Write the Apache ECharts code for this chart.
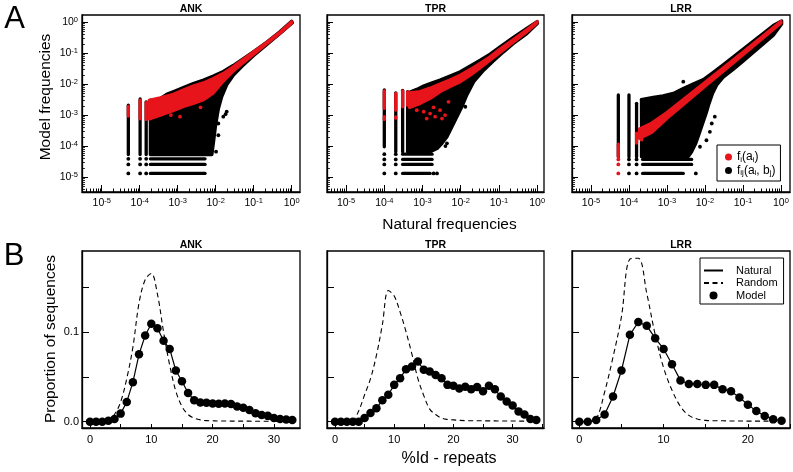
<!DOCTYPE html>
<html><head><meta charset="utf-8">
<script src="https://cdn.jsdelivr.net/npm/echarts@6/dist/echarts.min.js"></script>
<style>html,body{margin:0;padding:0;background:#fff}#c{width:793px;height:472px}</style>
</head><body><div id="c"></div>
<script>
// ---------------- DATA ----------------
// Panel A: values stored as [log10(natural freq), log10(model freq)]
const ankBlackCloud = [[-3.72,-2.52],[-3.6,-2.54],[-3.46,-2.47],[-3.29,-2.33],[-3.07,-2.22],[-2.85,-2.11],[-2.59,-1.98],[-2.32,-1.87],[-2.06,-1.74],[-1.8,-1.59],[-1.54,-1.40],[-1.27,-1.18],[-1.01,-0.96],[-0.66,-0.65],[-0.31,-0.31],[0.0,0.03],[0.02,-0.02],[-0.3,-0.36],[-0.66,-0.73],[-1.0,-1.08],[-1.3,-1.42],[-1.54,-1.72],[-1.71,-2.02],[-1.84,-2.4],[-1.93,-2.8],[-2.0,-3.3],[-2.05,-3.8],[-2.1,-4.27],[-3.72,-4.27]];
const ankRedCloud = [[-3.75,-2.52],[-3.46,-2.44],[-3.11,-2.33],[-2.85,-2.19],[-2.59,-2.06],[-2.32,-1.96],[-2.06,-1.82],[-1.8,-1.66],[-1.54,-1.44],[-1.27,-1.2],[-1.01,-0.97],[-0.66,-0.66],[-0.31,-0.33],[0.0,0.015],[0.0,-0.025],[-0.31,-0.36],[-0.66,-0.7],[-1.01,-1.04],[-1.27,-1.3],[-1.54,-1.58],[-1.8,-1.9],[-2.06,-2.28],[-2.32,-2.5],[-2.59,-2.62],[-2.85,-2.72],[-3.11,-2.85],[-3.46,-3.0],[-3.75,-3.12]];
// segments: [x1, y1, x2, y2] (log10)
const ankBlackSegs = [[-4.30,-4.27,-4.30,-2.68],[-3.99,-4.27,-3.99,-2.48],[-3.83,-4.27,-3.83,-2.57],[-3.72,-4.41,-2.28,-4.41],[-3.72,-4.59,-2.28,-4.59],[-3.72,-4.88,-2.28,-4.88]];
const ankRedSegs = [[-4.30,-3.03,-4.30,-2.72],[-3.99,-3.12,-3.99,-2.52],[-3.83,-3.14,-3.83,-2.60]];
const ankBlackDots = [[-4.30,-4.41],[-4.30,-4.59],[-4.30,-4.88],[-3.99,-4.41],[-3.99,-4.59],[-3.99,-4.88],[-3.83,-4.41],[-3.83,-4.59],[-3.83,-4.88],[-1.80,-3.05],[-1.74,-2.97],[-1.71,-2.89],[-1.93,-3.27],[-1.93,-3.65],[-1.99,-4.18]];
const ankRedDots = [[-2.94,-3.05],[-3.18,-3.0],[-2.4,-2.75]];

const tprBlackCloud = [[-3.34,-2.26],[-3.15,-2.17],[-2.97,-2.06],[-2.8,-1.98],[-2.54,-1.87],[-2.28,-1.74],[-2.01,-1.6],[-1.75,-1.41],[-1.49,-1.23],[-1.23,-1.03],[-0.97,-0.8],[-0.62,-0.49],[-0.27,-0.2],[0.0,0.02],[0.01,-0.04],[-0.27,-0.37],[-0.62,-0.69],[-0.88,-0.96],[-1.14,-1.25],[-1.4,-1.55],[-1.66,-1.92],[-1.84,-2.35],[-1.97,-2.73],[-2.1,-3.05],[-2.23,-3.38],[-2.36,-3.7],[-2.49,-3.91],[-2.62,-4.08],[-2.8,-4.18],[-3.34,-4.18]];
const tprRedCloud = [[-3.34,-2.28],[-3.06,-2.24],[-2.8,-2.13],[-2.54,-2.0],[-2.28,-1.87],[-2.01,-1.71],[-1.75,-1.53],[-1.49,-1.33],[-1.23,-1.12],[-0.97,-0.87],[-0.62,-0.56],[-0.27,-0.25],[0.0,0.01],[0.0,-0.02],[-0.27,-0.31],[-0.62,-0.64],[-0.97,-0.98],[-1.23,-1.22],[-1.49,-1.47],[-1.75,-1.71],[-2.01,-1.92],[-2.28,-2.08],[-2.54,-2.24],[-2.8,-2.46],[-3.06,-2.62],[-3.34,-2.75]];
const tprBlackSegs = [[-4.0,-4.02,-4.0,-2.19],[-3.70,-4.18,-3.70,-2.28],[-3.52,-4.18,-3.52,-2.2],[-3.39,-4.18,-3.39,-2.24],[-3.52,-4.26,-2.75,-4.26],[-3.52,-4.43,-2.75,-4.43],[-3.52,-4.59,-2.75,-4.59],[-3.52,-4.88,-2.8,-4.88]];
const tprRedSegs = [[-4.0,-2.78,-4.0,-2.22],[-4.0,-3.14,-4.0,-3.05],[-3.70,-2.84,-3.70,-2.30],[-3.70,-3.1,-3.70,-3.06],[-3.52,-2.73,-3.52,-2.22],[-3.39,-2.68,-3.39,-2.25]];
const tprBlackDots = [[-4.0,-4.26],[-4.0,-4.43],[-4.0,-4.59],[-4.0,-4.88],[-3.70,-4.26],[-3.70,-4.43],[-3.70,-4.59],[-3.70,-4.88],[-2.71,-4.88],[-2.62,-4.88],[-2.36,-3.91],[-2.4,-4.0],[-1.88,-2.73]];
const tprRedDots = [[-3.15,-2.84],[-2.97,-2.89],[-2.8,-2.95],[-2.71,-2.75],[-2.89,-3.11],[-2.67,-3.05],[-2.54,-2.84],[-2.49,-3.11],[-2.41,-3.0],[-2.32,-2.57]];

const lrrBlackCloud = [[-3.64,-2.49],[-3.36,-2.43],[-3.1,-2.38],[-2.83,-2.3],[-2.57,-2.14],[-2.31,-2.0],[-2.04,-1.85],[-1.78,-1.62],[-1.52,-1.38],[-1.25,-1.12],[-0.99,-0.87],[-0.73,-0.62],[-0.46,-0.36],[-0.2,-0.11],[0.02,0.04],[0.02,-0.06],[-0.2,-0.42],[-0.46,-0.70],[-0.73,-0.98],[-0.99,-1.25],[-1.25,-1.52],[-1.52,-1.78],[-1.69,-2.03],[-1.8,-2.3],[-1.89,-2.62],[-1.97,-2.95],[-2.06,-3.27],[-2.15,-3.59],[-2.24,-3.91],[-2.35,-4.18],[-2.44,-4.34],[-3.64,-4.34]];
const lrrRedCloud = [[-3.72,-3.45],[-3.4,-3.26],[-3.0,-2.92],[-2.0,-1.95],[-1.0,-0.97],[0.0,0.02],[0.0,-0.03],[-1.0,-1.05],[-2.0,-2.07],[-3.0,-3.1],[-3.4,-3.55],[-3.72,-3.75]];
const lrrBlackSegs = [[-4.28,-4.34,-4.28,-2.35],[-4.0,-4.34,-4.0,-2.35],[-3.80,-4.34,-3.80,-2.62],[-3.67,-4.34,-3.67,-2.49],[-3.64,-4.43,-2.35,-4.43],[-3.64,-4.59,-2.35,-4.59],[-3.64,-4.88,-2.57,-4.88]];
const lrrRedSegs = [[-4.28,-4.34,-4.28,-3.94],[-3.80,-3.9,-3.80,-3.58],[-3.67,-3.8,-3.67,-3.5]];
const lrrBlackDots = [[-4.0,-4.43],[-4.0,-4.59],[-4.0,-4.88],[-3.80,-4.43],[-3.80,-4.59],[-3.80,-4.88],[-2.57,-1.92],[-2.13,-4.02],[-1.96,-3.81],[-1.87,-3.54],[-1.82,-3.27],[-1.74,-3.05],[-2.24,-4.88]];
const lrrRedDots = [[-4.28,-4.43],[-4.28,-4.59],[-4.28,-4.88]];

// Panel B: proportion of sequences vs %Id (x = 0,1,2,...)
const ankNatural = [0,0,0,0.001,0.003,0.009,0.022,0.044,0.075,0.096,0.109,0.104,0.09,0.081,0.057,0.045,0.032,0.024,0.0215,0.021,0.0204,0.02,0.0204,0.0196,0.017,0.0156,0.013,0.0095,0.0075,0.0065,0.004,0.003,0.0025,0.002];
const ankModel   = [0,0,0,0.001,0.003,0.009,0.022,0.044,0.075,0.096,0.109,0.104,0.09,0.081,0.057,0.045,0.032,0.024,0.0215,0.021,0.0204,0.02,0.0204,0.0196,0.017,0.0156,0.013,0.0095,0.0075,0.0065,0.004,0.003,0.0025,0.002];
const ankRandom  = [0,0,0,0.001,0.008,0.022,0.048,0.083,0.132,0.158,0.165,0.142,0.1,0.063,0.034,0.017,0.008,0.004,0.002,0.0012,0.001,0.0008,0.0008,0.0007,0.0007,0.0006,0.0006,0.0005,0.0005,0.0005,0.0004,0.0004,0.0004,0.0003];
const tprNatural = [0,0,0,0,0,0.004,0.0096,0.015,0.024,0.03,0.041,0.0485,0.0585,0.0615,0.067,0.0578,0.056,0.052,0.0485,0.041,0.04,0.037,0.039,0.036,0.0385,0.034,0.04,0.036,0.028,0.0226,0.018,0.0115,0.008,0.003,0.002];
const tprModel   = [0,0,0,0,0,0.004,0.0096,0.015,0.024,0.03,0.041,0.0485,0.0585,0.0615,0.067,0.0578,0.056,0.052,0.0485,0.041,0.04,0.037,0.039,0.036,0.0385,0.034,0.04,0.036,0.028,0.0226,0.018,0.0115,0.008,0.003,0.002];
const tprRandom  = [0,0,0,0.001,0.012,0.03,0.048,0.074,0.108,0.146,0.14,0.122,0.1,0.075,0.048,0.029,0.014,0.008,0.004,0.0025,0.002,0.0015,0.0012,0.001,0.001,0.001,0.0009,0.0009,0.0008,0.0008,0.0008,0.0007,0.0007,0.0007,0.0007];
const lrrNatural = [0,0,0.002,0.008,0.028,0.057,0.0967,0.111,0.1067,0.093,0.081,0.064,0.046,0.042,0.042,0.041,0.041,0.036,0.034,0.027,0.019,0.012,0.0063,0.0026,0.001];
const lrrModel   = [0,0,0.002,0.008,0.028,0.057,0.0967,0.111,0.1067,0.093,0.081,0.064,0.046,0.042,0.042,0.041,0.041,0.036,0.034,0.027,0.019,0.012,0.0063,0.0026,0.001];
const lrrRandom  = [0,0,0.003,0.033,0.072,0.117,0.181,0.182,0.143,0.097,0.06,0.035,0.017,0.007,0.003,0.0015,0.001,0.001,0.0008,0.0008,0.0007,0.0007,0.0006,0.0006,0.0006];

// tick labels
const decadeTicks = [1e-5, 1e-4, 1e-3, 1e-2, 1e-1, 1];
const pctTickMarks = [0, 5, 10, 15, 20, 25, 30, 35];
const pctTickLabels = [0, 10, 20, 30];
const propTickMarks = [0, 0.05, 0.1, 0.15];
const propTickLabels = [0, 0.1];
const panelNames = ['ANK', 'TPR', 'LRR'];

// ---------------- LAYOUT ----------------
const FONT = '"Liberation Sans", Arial, Helvetica, sans-serif';
const topBoxes = [[82, 15, 218, 177], [327, 15, 217, 177], [572, 15, 218, 177]];
const botBoxes = [[82, 251, 218, 177], [327, 251, 217, 177], [572, 251, 218, 177]];
const topXRange = [[-5.52, 0.22], [-5.5, 0.18], [-5.5, 0.24]];
const topYRange = [-5.48, 0.23];
const botXRange = [[-1.3, 34.25], [-1.35, 35.3], [-0.87, 25.0]];
const botYRange = [-0.007, 0.19];

const minorVals = [];
for (let e = -6; e <= 0; e++) for (let k = 2; k <= 9; k++) minorVals.push(k * Math.pow(10, e));

const chart = echarts.init(document.getElementById('c'), null, {renderer: 'canvas', width: 793, height: 472});

const pw = v => Math.pow(10, v);
const toPts = arr => arr.map(p => [pw(p[0]), pw(p[1])]);

const supRich = {
  b: {fontSize: 10.5, fontFamily: FONT, color: '#000', lineHeight: 13},
  s: {fontSize: 7.5, fontFamily: FONT, color: '#000', verticalAlign: 'top', lineHeight: 8}
};
const powLabel = v => {
  const e = Math.round(Math.log10(v));
  return '{b|10}{s|' + (e < 0 ? '-' + (-e) : e) + '}';
};

const grids = [], xAxes = [], yAxes = [], series = [];
const black = '#000', red = '#e8141b';

function gridOf(b) {
  return {left: b[0], top: b[1], width: b[2], height: b[3], show: true, borderColor: '#000', borderWidth: 1.3,
          backgroundColor: 'transparent', containLabel: false, outerBoundsMode: 'none'};
}
topBoxes.forEach(b => grids.push(gridOf(b)));
botBoxes.forEach(b => grids.push(gridOf(b)));

const lineAx = {show: true, onZero: false, lineStyle: {color: '#000', width: 1.3}};
// top main axes 0..2
for (let i = 0; i < 3; i++) {
  xAxes.push({type: 'log', logBase: 10, gridIndex: i, position: 'bottom', min: pw(topXRange[i][0]), max: pw(topXRange[i][1]),
    axisLine: lineAx, splitLine: {show: false}, minorTick: {show: false},
    axisTick: {show: true, inside: true, length: 7, customValues: decadeTicks, lineStyle: {color: '#000', width: 1}},
    axisLabel: {show: true, customValues: decadeTicks, formatter: powLabel, rich: supRich, margin: 5, color: '#000'}});
  yAxes.push({type: 'log', logBase: 10, gridIndex: i, position: 'left', min: pw(topYRange[0]), max: pw(topYRange[1]),
    axisLine: lineAx, splitLine: {show: false}, minorTick: {show: false},
    axisTick: {show: true, inside: true, length: 6, customValues: decadeTicks, lineStyle: {color: '#000', width: 1}},
    axisLabel: {show: i === 0, customValues: decadeTicks, formatter: powLabel, rich: supRich, margin: 4, color: '#000'}});
}
// bottom main axes 3..5
for (let i = 0; i < 3; i++) {
  xAxes.push({type: 'value', gridIndex: 3 + i, position: 'bottom', min: botXRange[i][0], max: botXRange[i][1],
    axisLine: lineAx, splitLine: {show: false},
    axisTick: {show: true, inside: true, length: 4, customValues: pctTickMarks, lineStyle: {color: '#000', width: 1}},
    axisLabel: {show: true, customValues: pctTickLabels, margin: 6, color: '#000', fontSize: 11, fontFamily: FONT}});
  yAxes.push({type: 'value', gridIndex: 3 + i, position: 'left', min: botYRange[0], max: botYRange[1],
    axisLine: lineAx, splitLine: {show: false},
    axisTick: {show: true, inside: true, length: 7, customValues: propTickMarks, lineStyle: {color: '#000', width: 1}},
    axisLabel: {show: i === 0, customValues: propTickLabels, formatter: v => v.toFixed(1), margin: 3, color: '#000', fontSize: 11, fontFamily: FONT}});
}
// top minor-tick axes 6..8
for (let i = 0; i < 3; i++) {
  xAxes.push({type: 'log', logBase: 10, gridIndex: i, position: 'bottom', min: pw(topXRange[i][0]), max: pw(topXRange[i][1]),
    axisLine: {show: false}, splitLine: {show: false}, axisLabel: {show: false},
    axisTick: {show: true, inside: true, length: 3.5, customValues: minorVals, lineStyle: {color: '#000', width: 1}}});
  yAxes.push({type: 'log', logBase: 10, gridIndex: i, position: 'left', min: pw(topYRange[0]), max: pw(topYRange[1]),
    axisLine: {show: false}, splitLine: {show: false}, axisLabel: {show: false},
    axisTick: {show: true, inside: true, length: 3, customValues: minorVals, lineStyle: {color: '#000', width: 0.8}}});
}

function polySeries(i, arr, color) {
  const pts = toPts(arr);
  return {type: 'custom', coordinateSystem: 'cartesian2d', xAxisIndex: i, yAxisIndex: i, silent: true, clip: true,
    data: [pts[0]],
    renderItem: (params, api) => ({type: 'polygon', shape: {points: pts.map(p => api.coord(p))},
      style: {fill: color, stroke: color, lineWidth: 3.3, lineJoin: 'round'}})};
}
function segSeries(i, arr, color) {
  return {type: 'custom', coordinateSystem: 'cartesian2d', xAxisIndex: i, yAxisIndex: i, silent: true, clip: true,
    data: arr.map(s => [pw(s[0]), pw(s[1]), pw(s[2]), pw(s[3])]),
    encode: {x: [0, 2], y: [1, 3]},
    renderItem: (params, api) => {
      const a = api.coord([api.value(0), api.value(1)]);
      const b = api.coord([api.value(2), api.value(3)]);
      return {type: 'line', shape: {x1: a[0], y1: a[1], x2: b[0], y2: b[1]},
        style: {stroke: color, lineWidth: 3.3, lineCap: 'round'}};
    }};
}
function dotSeries(i, arr, color, name) {
  return {type: 'scatter', name: name, xAxisIndex: i, yAxisIndex: i, symbol: 'circle', symbolSize: 3.8, silent: true,
    itemStyle: {color: color, opacity: 1}, data: toPts(arr)};
}

const topSets = [
  [ankBlackCloud, ankBlackSegs, ankBlackDots, ankRedCloud, ankRedSegs, ankRedDots],
  [tprBlackCloud, tprBlackSegs, tprBlackDots, tprRedCloud, tprRedSegs, tprRedDots],
  [lrrBlackCloud, lrrBlackSegs, lrrBlackDots, lrrRedCloud, lrrRedSegs, lrrRedDots]
];
topSets.forEach((s, i) => {
  series.push(polySeries(i, s[0], black));
  series.push(segSeries(i, s[1], black));
  series.push(dotSeries(i, s[2], black, 'fij'));
  series.push(polySeries(i, s[3], red));
  series.push(segSeries(i, s[4], red));
  series.push(dotSeries(i, s[5], red, 'fi'));
});

const botSets = [[ankNatural, ankRandom, ankModel], [tprNatural, tprRandom, tprModel], [lrrNatural, lrrRandom, lrrModel]];
botSets.forEach((s, j) => {
  const i = 3 + j;
  series.push({type: 'line', name: 'Random', xAxisIndex: i, yAxisIndex: i, symbol: 'none', smooth: 0.35, silent: true,
    lineStyle: {color: '#000', width: 1.1, type: [5, 3.5]}, itemStyle: {color: '#000', opacity: 0},
    data: s[1].map((v, k) => [k, v])});
  series.push({type: 'line', name: 'Natural', xAxisIndex: i, yAxisIndex: i, symbol: 'none', silent: true,
    lineStyle: {color: '#000', width: 1.2}, itemStyle: {color: '#000', opacity: 0},
    data: s[0].map((v, k) => [k, v])});
  series.push({type: 'scatter', name: 'Model', xAxisIndex: i, yAxisIndex: i, symbol: 'circle', symbolSize: 8.5, silent: true,
    itemStyle: {color: '#000', opacity: 1}, data: s[2].map((v, k) => [k, v])});
});

const txt = (x, y, text, size, extra) => Object.assign({type: 'text', x: x, y: y, silent: true,
  style: {text: text, fontSize: size, fontFamily: FONT, fill: '#000', align: 'center', verticalAlign: 'middle'}}, extra || {});
const graphic = [
  txt(14.5, 19, 'A', 31),
  txt(14, 256, 'B', 31),
  txt(46, 97, 'Model frequencies', 15.5, {rotation: Math.PI / 2}),
  txt(51, 339, 'Proportion of sequences', 15.5, {rotation: Math.PI / 2}),
  txt(449.5, 225, 'Natural frequencies', 15.5),
  txt(449, 459, '%Id - repeats', 16)
];
panelNames.forEach((n, i) => {
  const t1 = txt(topBoxes[i][0] + topBoxes[i][2] / 2, 9.5, n, 10.5);
  t1.style.fontWeight = 'bold';
  graphic.push(t1);
  const t2 = txt(botBoxes[i][0] + botBoxes[i][2] / 2, 245, n, 10.5);
  t2.style.fontWeight = 'bold';
  graphic.push(t2);
});

const legRich = {
  t: {fontSize: 12, fontFamily: FONT, color: '#000', lineHeight: 13},
  u: {fontSize: 8, fontFamily: FONT, color: '#000', verticalAlign: 'bottom', lineHeight: 8}
};

chart.setOption({
  animation: false,
  backgroundColor: '#fff',
  grid: grids,
  xAxis: xAxes,
  yAxis: yAxes,
  series: series,
  graphic: graphic,
  legend: [
    {data: [{name: 'fi', icon: 'circle'}, {name: 'fij', icon: 'circle'}], orient: 'vertical', left: 717, top: 145,
     itemWidth: 7, itemHeight: 7, itemGap: 1, padding: [6, 5, 4, 8], borderColor: '#000', borderWidth: 1, borderRadius: 0,
     backgroundColor: '#fff', selectedMode: false,
     formatter: n => n === 'fi' ? '{t|f}{u|i}{t|(a}{u|i}{t|)}' : '{t|f}{u|ij}{t|(a}{u|i}{t|, b}{u|j}{t|)}',
     textStyle: {rich: legRich}},
    {data: ['Natural', 'Random', 'Model'], orient: 'vertical', left: 700, top: 258,
     itemWidth: 19, itemHeight: 8, itemGap: 1.5, padding: [7, 6, 3, 3], borderColor: '#000', borderWidth: 1, borderRadius: 0,
     backgroundColor: '#fff', selectedMode: false,
     textStyle: {fontSize: 11, fontFamily: FONT, color: '#000', padding: [0, 0, 0, 8]}}
  ]
});
</script>
</body></html>
